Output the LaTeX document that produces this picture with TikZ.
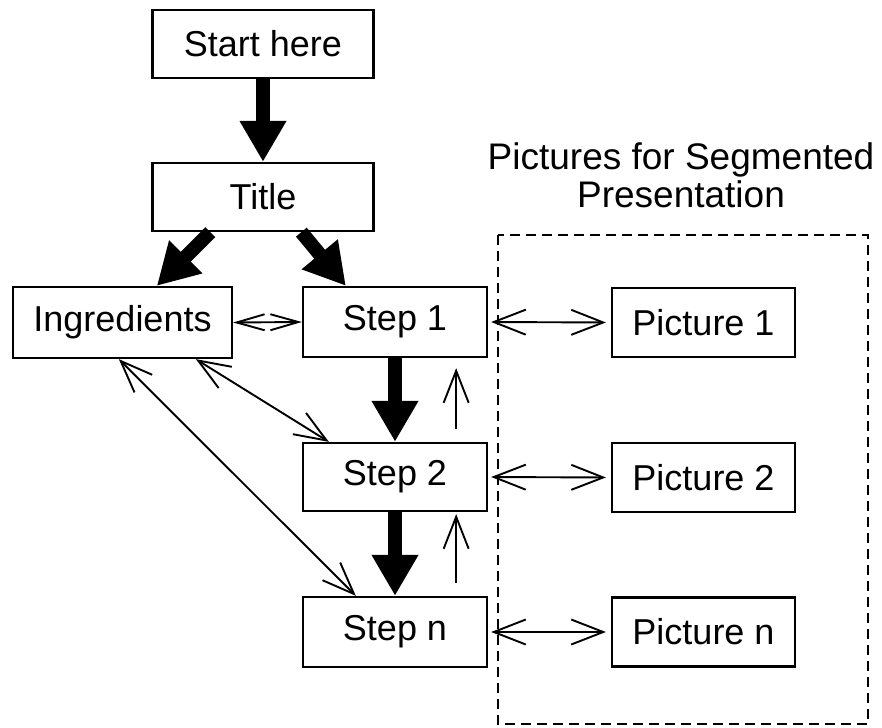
\documentclass[tikz,border=0pt]{standalone}
\usepackage{fontspec}
\setmainfont{Liberation Sans}
\usetikzlibrary{arrows.meta}
\begin{document}
\begin{tikzpicture}[x=1pt,y=-1pt,
  box/.style={draw,line width=2.3pt,rectangle,inner sep=0pt,font=\fontsize{36}{39}\selectfont},
  bigarrow/.style={line width=14pt,-{Triangle[length=41pt,width=44pt]}},
  thin/.style={line width=1.9pt,{Straight Barb[length=32pt,width=25pt,line width=1.9pt]}-{Straight Barb[length=32pt,width=25pt,line width=1.9pt]}},
  thinup/.style={line width=1.9pt,-{Straight Barb[length=32pt,width=25pt,line width=1.9pt]}},
  lbl/.style={align=center,font=\fontsize{37}{38}\selectfont}]
\useasboundingbox (0,0) rectangle (882,727);
\node[box,minimum width=221pt,minimum height=68pt] (start) at (263,44) {Start here};
\node[box,minimum width=221pt,minimum height=68pt] (title) at (263,197) {Title};
\node[box,minimum width=219pt,minimum height=71pt] (ingr) at (122.5,322.5) {Ingredients};
\node[box,minimum width=184pt,minimum height=70pt] (s1) at (395,322) {Step 1};
\node[box,minimum width=184pt,minimum height=68pt] (s2) at (395,477) {Step 2};
\node[box,minimum width=184pt,minimum height=70pt] (sn) at (395,632) {Step n};
\node[box,minimum width=183pt,minimum height=69pt] (p1) at (703.5,322.5) {Picture 1};
\node[box,minimum width=183pt,minimum height=69pt] (p2) at (703.5,477.5) {Picture 2};
\node[box,minimum width=183pt,minimum height=69pt] (pn) at (703.5,632) {Picture n};
\node[lbl] (lab) at (681,175) {Pictures for Segmented\\Presentation};
\draw[line width=2.3pt,dash pattern=on 10pt off 6pt] (498,235) rectangle (868,724);
% thick arrows
\draw[bigarrow] (start.south) -- (title.north);
\draw[bigarrow] ([xshift=59pt]title.south west) -- ([xshift=145pt]ingr.north west);
\draw[bigarrow] ([xshift=150pt]title.south west) -- ([xshift=44pt]s1.north west);
\draw[bigarrow] (s1.south) -- (s2.north);
\draw[bigarrow] (s2.south) -- (sn.north);
% thin arrows
\draw[line width=1.9pt,{Straight Barb[length=28pt,width=16pt,line width=1.9pt]}-{Straight Barb[length=28pt,width=16pt,line width=1.9pt]}] (ingr.east) -- (s1.west);
\draw[thin] ([xshift=184pt]ingr.south west) -- ([xshift=27pt]s2.north west);
\draw[thin] ([xshift=107pt]ingr.south west) -- ([xshift=54pt]sn.north west);
\draw[thinup] ([xshift=-32pt,yshift=13pt]s2.north east) -- ([xshift=-32pt,yshift=-10pt]s1.south east);
\draw[thinup] ([xshift=-32pt,yshift=13pt]sn.north east) -- ([xshift=-32pt,yshift=-2pt]s2.south east);
\draw[thin,shorten <=3pt,shorten >=5pt] (s1.east) -- (p1.west);
\draw[thin,shorten <=3pt,shorten >=5pt] (s2.east) -- (p2.west);
\draw[thin,shorten <=3pt,shorten >=5pt] (sn.east) -- (pn.west);
\end{tikzpicture}
\end{document}
